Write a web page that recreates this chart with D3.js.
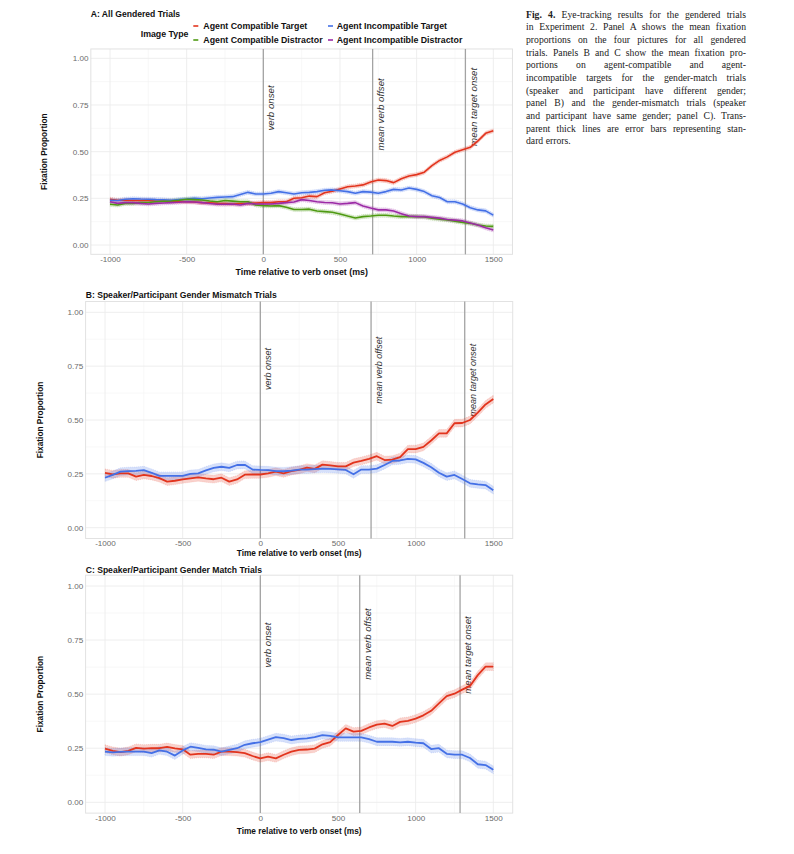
<!DOCTYPE html>
<html><head><meta charset="utf-8">
<script src="https://cdn.jsdelivr.net/npm/d3@7"></script>
<style>body{margin:0;background:#fff}</style>
</head><body>
<svg id="chart" width="794" height="854" xmlns="http://www.w3.org/2000/svg"></svg>
<script>
// ---------------- DATA ----------------
const times = [
 -1000,-950,-900,-850,-800,-750,-700,-650,-600,-550,
 -500,-450,-400,-350,-300,-250,-200,-150,-100,-50,
 0,50,100,150,200,250,300,350,400,450,
 500,550,600,650,700,750,800,850,900,950,
 1000,1050,1100,1150,1200,1250,1300,1350,1400,1450,
 1500];

const seriesNames = ["Agent Compatible Target","Agent Incompatible Target","Agent Compatible Distractor","Agent Incompatible Distractor"];
const seriesColors = ["#E2341D","#4470E6","#4E9A12","#9C2BA6"];

// Panel A: all gendered trials
const A_compTarget = [
 .245,.240,.240,.238,.238,.238,.236,.236,.234,.233,
 .232,.230,.227,.226,.223,.222,.220,.222,.223,.225,
 .227,.227,.232,.232,.250,.253,.262,.259,.280,.288,
 .300,.312,.316,.322,.337,.348,.345,.334,.355,.370,
 .377,.390,.425,.453,.472,.497,.510,.523,.558,.598,
 .612];
const A_incompTarget = [
 .240,.238,.245,.248,.246,.245,.243,.242,.240,.243,
 .246,.250,.248,.252,.255,.257,.259,.271,.282,.273,
 .273,.277,.286,.280,.273,.280,.282,.286,.293,.295,
 .291,.286,.277,.286,.283,.277,.286,.298,.295,.305,
 .298,.286,.264,.254,.232,.232,.220,.200,.188,.183,
 .160];
const A_compDistractor = [
 .218,.214,.223,.223,.227,.228,.232,.234,.236,.240,
 .245,.243,.241,.236,.232,.238,.235,.232,.232,.214,
 .211,.209,.211,.202,.190,.190,.192,.182,.179,.175,
 .166,.155,.145,.152,.155,.159,.159,.155,.152,.153,
 .152,.150,.143,.138,.134,.128,.121,.116,.107,.102,
 .100];
const A_incompDistractor = [
 .232,.223,.227,.227,.223,.220,.223,.225,.227,.229,
 .232,.230,.227,.222,.218,.218,.220,.214,.223,.220,
 .220,.220,.223,.227,.230,.243,.238,.232,.228,.226,
 .220,.223,.227,.209,.198,.188,.188,.182,.168,.155,
 .152,.152,.148,.144,.137,.133,.129,.118,.107,.092,
 .080];

// Panel B: gender mismatch trials
const B_compTarget = [
 .255,.248,.252,.252,.237,.245,.240,.230,.214,.218,
 .224,.229,.234,.229,.225,.232,.214,.224,.246,.247,
 .247,.252,.260,.252,.263,.268,.279,.273,.293,.289,
 .285,.285,.302,.310,.320,.332,.314,.316,.328,.365,
 .365,.375,.405,.438,.438,.485,.486,.500,.534,.572,
 .597];
const B_incompTarget = [
 .232,.245,.260,.263,.264,.267,.255,.241,.241,.241,
 .241,.250,.252,.266,.278,.283,.278,.291,.292,.270,
 .268,.267,.263,.262,.265,.270,.270,.272,.274,.273,
 .271,.268,.248,.270,.270,.274,.291,.310,.312,.320,
 .317,.301,.281,.255,.237,.245,.226,.206,.201,.198,
 .174];

// Panel C: gender match trials
const C_compTarget = [
 .248,.238,.232,.238,.252,.248,.250,.250,.256,.249,
 .245,.220,.224,.224,.220,.234,.234,.232,.227,.214,
 .203,.211,.203,.220,.234,.242,.244,.248,.268,.278,
 .311,.342,.327,.330,.346,.359,.364,.353,.372,.376,
 .387,.402,.423,.457,.491,.502,.521,.538,.588,.627,
 .627];
const C_incompTarget = [
 .234,.231,.233,.234,.234,.234,.227,.240,.234,.216,
 .240,.257,.252,.245,.243,.234,.242,.250,.266,.273,
 .278,.290,.301,.297,.288,.293,.296,.301,.311,.307,
 .300,.300,.300,.300,.292,.280,.280,.280,.277,.280,
 .276,.273,.246,.250,.224,.220,.220,.205,.176,.172,
 .150];

// standard errors (half-width of ribbons)
const A_se = 0.011, B_se = 0.018, C_se = 0.018;

const xTicks = [-1000,-500,0,500,1000,1500];
const xMinor = [-750,-250,250,750,1250];
const yTicks = [0,0.25,0.5,0.75,1];
const yMinor = [0.125,0.375,0.625,0.875];

const eventNames = ["verb onset","mean verb offset","mean target onset"];
const A_events = [0,713,1318];
const B_events = [0,713,1316];
const C_events = [0,640,1286];
const A_eventLabelY = [0.734,0.700,0.740];
const B_eventLabelY = [0.737,0.731,0.685];
const C_eventLabelY = [0.727,0.732,0.681];

const panelTitles = ["A: All Gendered Trials","B: Speaker/Participant Gender Mismatch Trials","C: Speaker/Participant Gender Match Trials"];
const xTitle = "Time relative to verb onset (ms)";
const yTitle = "Fixation Proportion";
const legendTitle = "Image Type";

const captionLines = [
 "Eye-tracking results for the gendered trials",
 "in Experiment 2. Panel A shows the mean fixation",
 "proportions on the four pictures for all gendered",
 "trials. Panels B and C show the mean fixation pro-",
 "portions on agent-compatible and agent-",
 "incompatible targets for the gender-match trials",
 "(speaker and participant have different gender;",
 "panel B) and the gender-mismatch trials (speaker",
 "and participant have same gender; panel C). Trans-",
 "parent thick lines are error bars representing stan-",
 "dard errors."];
const captionLead = "Fig. 4.";

// ---------------- DRAW ----------------
const svg = d3.select("#chart");
svg.append("rect").attr("width",794).attr("height",854).attr("fill","#fff");
const SANS = "'Liberation Sans', Arial, Helvetica, sans-serif";

const panels = [
  {title:panelTitles[0], series:[A_compTarget,A_incompTarget,A_compDistractor,A_incompDistractor], colorIdx:[0,1,2,3], se:A_se,
   events:A_events, labelY:A_eventLabelY,
   xr:[110,493.3], yr:[245,58.3], titlePos:[90.7,16.6], yTitleX:47, xTickPad:2.0, xTitleY:274.5, lw:1.6, xtfs:8.8, lblfs:9.7},
  {title:panelTitles[1], series:[B_compTarget,B_incompTarget], colorIdx:[0,1], se:B_se,
   events:B_events, labelY:B_eventLabelY,
   xr:[105,493.3], yr:[527.7,312.3], titlePos:[85.7,297.6], yTitleX:43, xTickPad:1.9, xTitleY:556, lw:1.8, xtfs:8.3, lblfs:9.0},
  {title:panelTitles[2], series:[C_compTarget,C_incompTarget], colorIdx:[0,1], se:C_se,
   events:C_events, labelY:C_eventLabelY,
   xr:[105,493.3], yr:[802.3,586], titlePos:[85.7,573], yTitleX:43, xTickPad:2.1, xTitleY:833.7, lw:1.8, xtfs:8.3, lblfs:9.6}
];

panels.forEach(p => {
  const x = d3.scaleLinear().domain([-1000,1500]).range(p.xr);
  const y = d3.scaleLinear().domain([0,1]).range(p.yr);
  const L = x(-1125), R = x(1625), T = y(1.05), B = y(-0.05);
  const g = svg.append("g");

  // minor grid
  g.selectAll(".vminor").data(xMinor).join("line")
    .attr("x1",d=>x(d)).attr("x2",d=>x(d)).attr("y1",T).attr("y2",B)
    .attr("stroke","#f4f4f4").attr("stroke-width",0.6);
  g.selectAll(".hminor").data(yMinor).join("line")
    .attr("x1",L).attr("x2",R).attr("y1",d=>y(d)).attr("y2",d=>y(d))
    .attr("stroke","#f4f4f4").attr("stroke-width",0.6);
  // major grid
  g.selectAll(".vmajor").data(xTicks).join("line")
    .attr("x1",d=>x(d)).attr("x2",d=>x(d)).attr("y1",T).attr("y2",B)
    .attr("stroke","#ececec").attr("stroke-width",0.9);
  g.selectAll(".hmajor").data(yTicks).join("line")
    .attr("x1",L).attr("x2",R).attr("y1",d=>y(d)).attr("y2",d=>y(d))
    .attr("stroke","#ececec").attr("stroke-width",0.9);
  // border
  g.append("rect").attr("x",L).attr("y",T).attr("width",R-L).attr("height",B-T)
    .attr("fill","none").attr("stroke","#e2e2e2").attr("stroke-width",1);

  // event vertical lines
  g.selectAll(".ev").data(p.events).join("line")
    .attr("x1",d=>x(d)).attr("x2",d=>x(d)).attr("y1",T).attr("y2",B)
    .attr("stroke","#a3a3a3").attr("stroke-width",1.3);
  g.selectAll(".evlab").data(p.events).join("text")
    .attr("transform",(d,i)=>`translate(${x(d)+7.7},${y(p.labelY[i])}) rotate(-90)`)
    .attr("text-anchor","middle").attr("dy","0.35em")
    .attr("font-family",SANS).attr("font-style","italic").attr("font-size",p.lblfs)
    .attr("fill","#333").text((d,i)=>eventNames[i]);

  // ribbons + lines
  const area = d3.area().x((d,i)=>x(times[i])).y0(d=>y(d-p.se)).y1(d=>y(d+p.se));
  const line = d3.line().x((d,i)=>x(times[i])).y(d=>y(d));
  p.series.forEach((s,k)=>{
    const c = seriesColors[p.colorIdx[k]];
    g.append("path").datum(s).attr("d",area).attr("fill",c).attr("fill-opacity",0.22)
      .attr("stroke",c).attr("stroke-opacity",0.25).attr("stroke-width",0.7).attr("stroke-dasharray","1,1");
  });
  p.series.forEach((s,k)=>{
    const c = seriesColors[p.colorIdx[k]];
    g.append("path").datum(s).attr("d",line).attr("fill","none").attr("stroke",c)
      .attr("stroke-width",p.lw).attr("stroke-linejoin","round");
  });

  // axes
  const xa = g.append("g").attr("transform",`translate(0,${B})`)
    .call(d3.axisBottom(x).tickValues(xTicks).tickSize(0).tickPadding(p.xTickPad).tickFormat(d3.format("d")));
  const ya = g.append("g").attr("transform",`translate(${L},0)`)
    .call(d3.axisLeft(y).tickValues(yTicks).tickSize(0).tickPadding(2.3).tickFormat(d3.format(".2f")));
  [xa,ya].forEach(a=>{
    a.select(".domain").remove();
    a.selectAll("text").attr("font-family",SANS).attr("font-size",8.1).attr("fill","#6b6b6b");
  });
  xa.selectAll("text").text(d=>d<0?"-"+Math.abs(d):d);

  // titles
  g.append("text").attr("x",(p.xr[0]+p.xr[1])/2).attr("y",p.xTitleY).attr("text-anchor","middle")
    .attr("font-family",SANS).attr("font-weight","bold").attr("font-size",p.xtfs).attr("fill","#111").text(xTitle);
  g.append("text").attr("transform",`translate(${p.yTitleX},${(T+B)/2}) rotate(-90)`).attr("text-anchor","middle")
    .attr("font-family",SANS).attr("font-weight","bold").attr("font-size",8.3).attr("fill","#111").text(yTitle);
  g.append("text").attr("x",p.titlePos[0]).attr("y",p.titlePos[1])
    .attr("font-family",SANS).attr("font-weight","bold").attr("font-size",8.6).attr("fill","#111").text(p.title);
});

// legend (panel A)
const lg = svg.append("g");
lg.append("text").attr("x",140.7).attr("y",37).attr("font-family",SANS).attr("font-weight","bold")
  .attr("font-size",8.8).attr("fill","#111").text(legendTitle);
const legendItems = [
  {i:0, col:0, row:0},{i:1, col:1, row:0},{i:2, col:0, row:1},{i:3, col:1, row:1}];
const colKeyX = [193.3, 328], colTextX = [203.3, 336.7], rowY = [26, 40];
legendItems.forEach(it=>{
  lg.append("line").attr("x1",colKeyX[it.col]).attr("x2",colKeyX[it.col]+5)
    .attr("y1",rowY[it.row]).attr("y2",rowY[it.row]).attr("stroke",seriesColors[it.i]).attr("stroke-width",1.6);
  lg.append("text").attr("x",colTextX[it.col]).attr("y",rowY[it.row]).attr("dy","0.35em")
    .attr("font-family",SANS).attr("font-weight","bold").attr("font-size",8.8).attr("fill","#111")
    .text(seriesNames[it.i]);
});

// caption (justified by word spacing)
const cap = svg.append("g");
const SERIF = "'Liberation Serif', 'DejaVu Serif', serif";
const capWidth = 220;
captionLines.forEach((ln,i)=>{
  const t = cap.append("text").attr("x",526).attr("y",17.6 + i*12.67)
    .attr("font-family",SERIF).attr("font-size",9.7).attr("fill","#222");
  let full = ln;
  if(i===0){
    t.append("tspan").attr("font-weight","bold").text(captionLead + " ");
    t.append("tspan").text(ln);
    full = captionLead + " " + ln;
  } else t.text(ln);
  if(i < captionLines.length-1){
    const w = t.node().getComputedTextLength();
    const spaces = (full.match(/ /g)||[]).length;
    if(spaces>0) t.attr("word-spacing", ((capWidth - w)/spaces).toFixed(2));
  }
});
</script>
</body></html>
